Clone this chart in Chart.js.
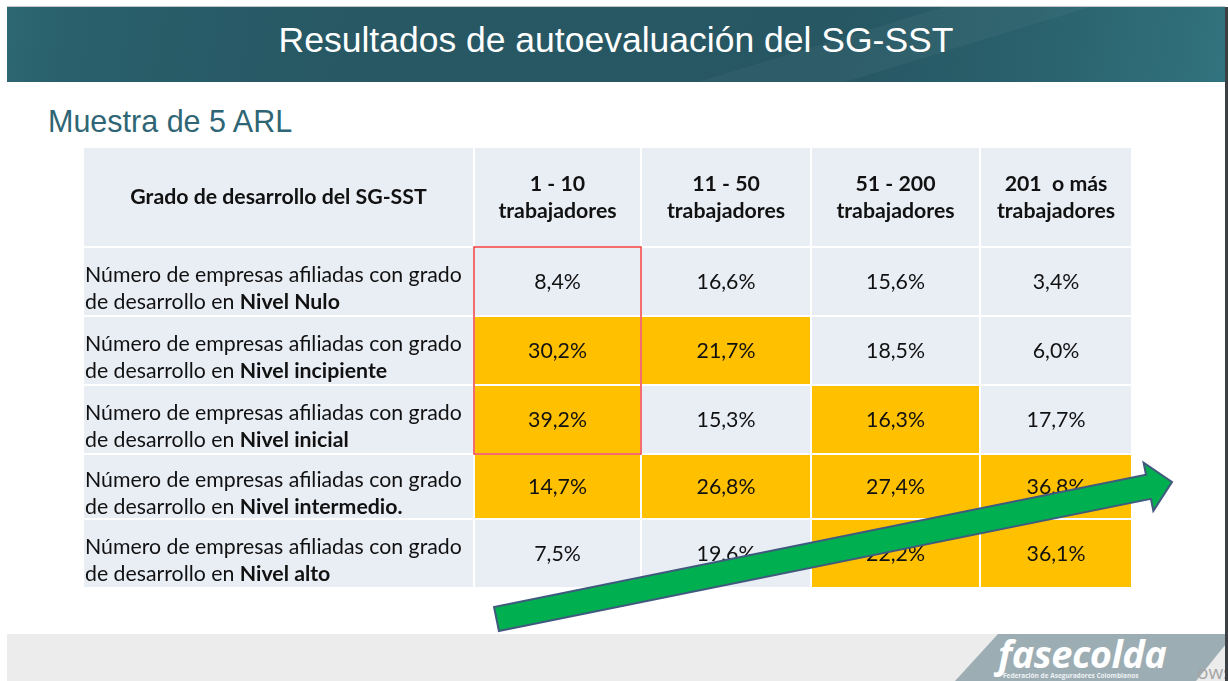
<!DOCTYPE html>
<html lang="es">
<head>
<meta charset="utf-8">
<title>Resultados de autoevaluación del SG-SST</title>
<script src="https://cdn.jsdelivr.net/npm/chart.js@4.4.1/dist/chart.umd.min.js"></script>
<style>
  html, body { margin: 0; padding: 0; background: #fff; }
  body { width: 1228px; height: 681px; position: relative; overflow: hidden; font-family: "Liberation Sans", Arial, sans-serif; }
  #topline { position: absolute; left: 7px; top: 6px; width: 1218px; height: 1px; background: #c4c4c4; }
  #band {
    position: absolute; left: 7px; top: 7px; width: 1218px; height: 75px;
    background:
      linear-gradient(163deg, transparent 64%, rgba(255,255,255,0.035) 64%, rgba(255,255,255,0.035) 74%, transparent 74%),
      linear-gradient(100deg, #2e6872 0%, #29606b 5%, #275864 28%, #265763 68%, #2a616c 84%, #31737e 100%);
  }
  #title { position: absolute; left: 7px; top: 7px; width: 1218px; height: 75px; line-height: 66px; text-align: center;
           color: #fff; font-size: 35.5px; }
  #sub { position: absolute; left: 48px; top: 106px; line-height: 30px; font-size: 30.5px; color: #2f6675; white-space: nowrap; }
  #foot { position: absolute; left: 7px; top: 634px; width: 1218px; height: 47px; background: #ececec; }
  #logo { position: absolute; left: 0; top: 634px; width: 1228px; height: 47px; background: #9dadb4;
          clip-path: polygon(998px 0, 1226px 0, 1226px 10px, 1196px 47px, 955px 47px); }
  #logoName { position: absolute; left: 998px; top: 633px; font: italic 700 38px "Open Sans", sans-serif; color: #fff; letter-spacing: -0.5px; line-height: 40px; }
  #logoSub { position: absolute; left: 1003px; top: 672px; font: 700 6.5px "Open Sans", sans-serif; color: #eef2f4; line-height: 8px; white-space: nowrap; }
  #wm { position: absolute; left: 1197px; top: 661px; font: 19px "Open Sans", sans-serif; color: #a5a5a5; line-height: 22px; }
  #edge { position: absolute; left: 1225px; top: 7px; width: 3px; height: 674px; background: #3c4045; }
  canvas { position: absolute; left: 0; top: 0; }
</style>
</head>
<body>
<div id="topline"></div>
<div id="band"></div>
<div id="title">Resultados de autoevaluación del SG-SST</div>
<div id="sub">Muestra de 5 ARL</div>
<div id="foot"></div>
<div id="logo"></div>
<div id="logoName">fasecolda</div>
<div id="logoSub">Federación de Aseguradores Colombianos</div>
<div id="wm">ows</div>
<canvas id="tabla" width="1228" height="681"></canvas>
<div id="edge"></div>
<script>
// textos de la tabla
const cornerLabel = "Grado de desarrollo del SG-SST";
const sizeGroups = [["1 - 10", "trabajadores"], ["11 - 50", "trabajadores"], ["51 - 200", "trabajadores"], ["201  o más", "trabajadores"]];
const rowLead = ["Número de empresas afiliadas con grado", "de desarrollo en "];
const levels = ["Nivel Nulo", "Nivel incipiente", "Nivel inicial", "Nivel intermedio.", "Nivel alto"];

// % de empresas por tamaño (una lista por columna)
const pct_1_10   = [8.4, 30.2, 39.2, 14.7, 7.5];
const pct_11_50  = [16.6, 21.7, 15.3, 26.8, 19.6];
const pct_51_200 = [15.6, 18.5, 16.3, 27.4, 22.2];
const pct_201    = [3.4, 6.0, 17.7, 36.8, 36.1];

// celdas resaltadas en amarillo (1 = sí)
const mark_1_10   = [0, 1, 1, 1, 0];
const mark_11_50  = [0, 1, 0, 1, 0];
const mark_51_200 = [0, 0, 1, 1, 1];
const mark_201    = [0, 0, 0, 1, 1];

const columns = [pct_1_10, pct_11_50, pct_51_200, pct_201];
const marks = [mark_1_10, mark_11_50, mark_51_200, mark_201];

// geometría (unidades de la tabla = px)
const COL_EDGES = [0, 391, 558, 728, 897, 1049];
const ROW_EDGES = [0, 100, 169, 238, 307, 372, 441];
const RED_BOX = { col: 1, rows: [1, 3] };
const ARROW = { from: [413.5, 472], to: [1089, 335], shaft: 12.3, head: 24.5, headLen: 24 };

const LIGHT = "#e9edf4";
const YELLOW = "#ffc000";
const FONT = "Lato, Carlito, 'Noto Sans', sans-serif";

function fmtPct(v){ return v.toFixed(1).replace(".", ",") + "%"; }

const datasets = COL_EDGES.slice(0, -1).map((x0, c) => {
  const x1 = COL_EDGES[c + 1];
  const data = [], colors = [];
  for (let r = 0; r < ROW_EDGES.length - 1; r++) {
    data.push({ x: (x0 + x1) / 2, y: [ROW_EDGES[r], ROW_EDGES[r + 1]] });
    const hot = c > 0 && r > 0 && marks[c - 1][r - 1] === 1;
    colors.push(hot ? YELLOW : LIGHT);
  }
  return {
    data,
    backgroundColor: colors,
    borderColor: "#ffffff",
    borderWidth: 1,
    borderSkipped: false,
    inflateAmount: 0,
    barThickness: x1 - x0,
    grouped: false,
  };
});

function cellBox(chart, c, r){
  const el = chart.getDatasetMeta(c).data[r];
  const t = Math.min(el.y, el.base), b = Math.max(el.y, el.base);
  return { l: el.x - el.width / 2, r: el.x + el.width / 2, t, b, cx: el.x, cy: (t + b) / 2 };
}

const cellText = {
  id: "cellText",
  afterDatasetsDraw(chart){
    const ctx = chart.ctx;
    ctx.save();
    // ajustar tamaño de letra al ancho de la etiqueta larga
    ctx.font = `20px ${FONT}`;
    const fs = 20 * 377 / ctx.measureText(rowLead[0]).width;
    const reg = `${fs}px ${FONT}`, bold = `bold ${fs}px ${FONT}`;

    // recuadro rojo
    const a = cellBox(chart, RED_BOX.col, RED_BOX.rows[0]);
    const z = cellBox(chart, RED_BOX.col, RED_BOX.rows[1]);
    ctx.strokeStyle = "#f23c3c";
    ctx.lineWidth = 1.5;
    ctx.strokeRect(a.l, a.t, a.r - a.l, z.b - a.t);

    ctx.fillStyle = "#111";
    ctx.textBaseline = "middle";

    // cabecera
    let h = cellBox(chart, 0, 0);
    ctx.font = bold;
    ctx.textAlign = "center";
    ctx.fillText(cornerLabel, h.cx, h.cy);
    sizeGroups.forEach((lines, i) => {
      h = cellBox(chart, i + 1, 0);
      ctx.fillText(lines[0], h.cx, h.cy - 13);
      ctx.fillText(lines[1], h.cx, h.cy + 14);
    });

    // etiquetas de fila
    levels.forEach((lvl, i) => {
      const b = cellBox(chart, 0, i + 1);
      ctx.textAlign = "left";
      ctx.font = reg;
      ctx.fillText(rowLead[0], b.l + 2, b.cy - 6);
      ctx.fillText(rowLead[1], b.l + 2, b.cy + 21);
      const w = ctx.measureText(rowLead[1]).width;
      ctx.font = bold;
      ctx.fillText(lvl, b.l + 2 + w, b.cy + 21);
    });

    // valores
    ctx.font = reg;
    ctx.textAlign = "center";
    columns.forEach((vals, c) => {
      vals.forEach((v, r) => {
        const b = cellBox(chart, c + 1, r + 1);
        ctx.fillText(fmtPct(v), b.cx, b.cy + 1);
      });
    });
    ctx.restore();
  },
  afterDraw(chart){
    // flecha verde
    const { ctx, scales: { x, y } } = chart;
    const p0 = [x.getPixelForValue(ARROW.from[0]), y.getPixelForValue(ARROW.from[1])];
    const p1 = [x.getPixelForValue(ARROW.to[0]), y.getPixelForValue(ARROW.to[1])];
    const dx = p1[0] - p0[0], dy = p1[1] - p0[1];
    const len = Math.hypot(dx, dy);
    const u = [dx / len, dy / len], n = [-u[1], u[0]];
    const j = [p1[0] - u[0] * ARROW.headLen, p1[1] - u[1] * ARROW.headLen];
    const pt = (base, k) => [base[0] + n[0] * k, base[1] + n[1] * k];
    const pts = [pt(p0, ARROW.shaft), pt(j, ARROW.shaft), pt(j, ARROW.head), p1,
                 pt(j, -ARROW.head), pt(j, -ARROW.shaft), pt(p0, -ARROW.shaft)];
    ctx.save();
    ctx.beginPath();
    pts.forEach((p, i) => i ? ctx.lineTo(p[0], p[1]) : ctx.moveTo(p[0], p[1]));
    ctx.closePath();
    ctx.fillStyle = "#00b050";
    ctx.fill();
    ctx.strokeStyle = "#3f5a7d";
    ctx.lineWidth = 2;
    ctx.lineJoin = "miter";
    ctx.stroke();
    ctx.restore();
  }
};

new Chart(document.getElementById("tabla"), {
  type: "bar",
  data: { datasets },
  options: {
    responsive: false,
    animation: false,
    devicePixelRatio: 1,
    events: [],
    layout: { padding: { left: 83, top: 147, right: 96, bottom: 93 } },
    plugins: { legend: { display: false }, tooltip: { enabled: false } },
    scales: {
      x: { type: "linear", min: 0, max: 1049, offset: false, display: false, grid: { offset: false } },
      y: { type: "linear", min: 0, max: 441, reverse: true, display: false }
    }
  },
  plugins: [cellText]
});
</script>
</body>
</html>
